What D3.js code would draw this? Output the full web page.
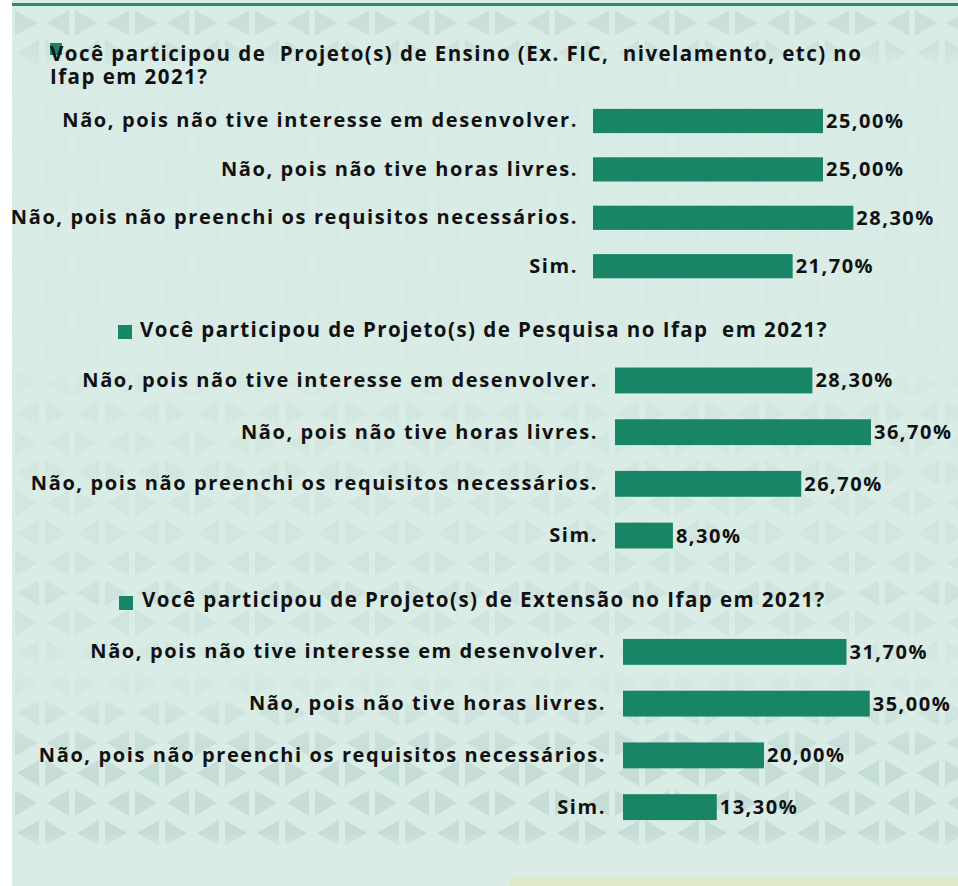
<!DOCTYPE html>
<html>
<head>
<meta charset="utf-8">
<title>Projetos Ifap 2021</title>
<script src="https://cdn.jsdelivr.net/npm/d3@7"></script>
<style>
*{
    margin: 0;
    padding: 0;
}
body{
    background: #ffffff;
}
text{
    font-family: "Open Sans", Lato, sans-serif;
    font-weight: bold;
    fill: #111111;
}
.cat text{
    font-size: 20px;
    letter-spacing: 1.6px;
}
.valor{
    font-size: 20px;
    letter-spacing: 1.5px;
}
.titulo{
    font-size: 20.5px;
    letter-spacing: 1.45px;
}
</style>
</head>
<body>
<svg width="958" height="886" id="grafico"></svg>
<script>
// dados
var categorias = [
    "Não, pois não tive interesse em desenvolver.",
    "Não, pois não tive horas livres.",
    "Não, pois não preenchi os requisitos necessários.",
    "Sim."
];
var ensino = [25.00, 25.00, 28.30, 21.70];
var pesquisa = [28.30, 36.70, 26.70, 8.30];
var extensao = [31.70, 35.00, 20.00, 13.30];
var titulos = [
    ["Você participou de  Projeto(s) de Ensino (Ex. FIC,  nivelamento, etc) no", "Ifap em 2021?"],
    ["Você participou de Projeto(s) de Pesquisa no Ifap  em 2021?"],
    ["Você participou de Projeto(s) de Extensão no Ifap em 2021?"]
];
var maxEixo = [30, 40, 40];

var verde = "#178566";

var svg = d3.select("#grafico");

// fundo com triângulos
var defs = svg.append("defs");
var pat = defs.append("pattern").attr("id", "tri").attr("patternUnits", "userSpaceOnUse")
    .attr("width", 60).attr("height", 60).attr("x", 12).attr("y", 8);
pat.append("path").attr("d", "M3,2 L25,15 L3,28 Z M57,2 L35,15 L57,28 Z M33,32 L55,45 L33,58 Z M27,32 L5,45 L27,58 Z")
    .attr("fill", "#c3dad4");
var grad = defs.append("linearGradient").attr("id", "fade").attr("x1", 0).attr("x2", 0).attr("y1", 0).attr("y2", 1);
[[0, 0.8], [0.045, 0.6], [0.08, 0.05], [0.4, 0.05], [0.47, 0.25], [0.6, 0.3], [0.68, 0.5], [0.76, 0.1], [0.86, 0.85], [0.94, 0.85], [0.96, 0]].forEach(function(s) {
    grad.append("stop").attr("offset", s[0]).attr("stop-color", "#fff").attr("stop-opacity", s[1]);
});
defs.append("mask").attr("id", "mascara").append("rect")
    .attr("x", 0).attr("y", 0).attr("width", 958).attr("height", 886).attr("fill", "url(#fade)");

svg.append("rect").attr("x", 12).attr("y", 0).attr("width", 946).attr("height", 886).attr("fill", "#d9ece6");
svg.append("rect").attr("x", 12).attr("y", 6).attr("width", 946).attr("height", 870)
    .attr("fill", "url(#tri)").attr("mask", "url(#mascara)");
svg.append("rect").attr("x", 510).attr("y", 877).attr("width", 448).attr("height", 9).attr("fill", "#dde9c9");
svg.append("line").attr("x1", 12).attr("x2", 958).attr("y1", 4.5).attr("y2", 4.5)
    .attr("stroke", "#2b8a69").attr("stroke-width", 3);

var paineis = [
    {valores: ensino, x0: 593, larg: 276, y0: 96.8, y1: 290.4, pad: 15,
     marca: [50, 43, 12], tx: 50, ty: 61},
    {valores: pesquisa, x0: 615, larg: 279, y0: 354.6, y1: 561.4, pad: 17,
     marca: [118, 325, 14], tx: 140, ty: 337},
    {valores: extensao, x0: 623, larg: 282, y0: 626, y1: 833, pad: 17,
     marca: [119, 596, 14], tx: 142, ty: 607}
];

paineis.forEach(function(p, i) {
    var x = d3.scaleLinear().domain([0, maxEixo[i]]).range([p.x0, p.x0 + p.larg]);
    var y = d3.scaleBand().domain(categorias).range([p.y0, p.y1])
        .paddingInner(0.5).paddingOuter(0.25);

    var dados = categorias.map(function(c, j) { return {cat: c, v: p.valores[j]}; });

    // marcador da legenda e título
    svg.append("rect").attr("x", p.marca[0]).attr("y", p.marca[1])
        .attr("width", p.marca[2]).attr("height", p.marca[2]).attr("fill", verde);
    var t = svg.append("text").attr("class", "titulo").attr("x", p.tx).attr("y", p.ty)
        .attr("xml:space", "preserve");
    titulos[i].forEach(function(linha, k) {
        t.append("tspan").attr("x", p.tx).attr("dy", k == 0 ? 0 : 23).text(linha);
    });

    var g = svg.append("g");

    g.append("g").attr("class", "cat").attr("transform", "translate(" + p.x0 + ",0)")
        .call(d3.axisLeft(y).tickSize(0).tickPadding(p.pad))
        .call(function(a) { a.select(".domain").remove(); })
        .selectAll("text").attr("font-family", null).attr("font-size", null).attr("fill", null);

    g.selectAll(".barra").data(dados).enter().append("rect")
        .attr("class", "barra")
        .attr("x", x(0))
        .attr("y", function(d) { return y(d.cat); })
        .attr("width", function(d) { return x(d.v) - x(0); })
        .attr("height", y.bandwidth())
        .attr("fill", verde);

    g.selectAll(".valor").data(dados).enter().append("text")
        .attr("class", "valor")
        .attr("x", function(d) { return x(d.v) + 3; })
        .attr("y", function(d) { return y(d.cat) + y.bandwidth() / 2; })
        .attr("dy", "0.35em")
        .text(function(d) { return d.v.toFixed(2).replace(".", ",") + "%"; });
});
</script>
</body>
</html>
